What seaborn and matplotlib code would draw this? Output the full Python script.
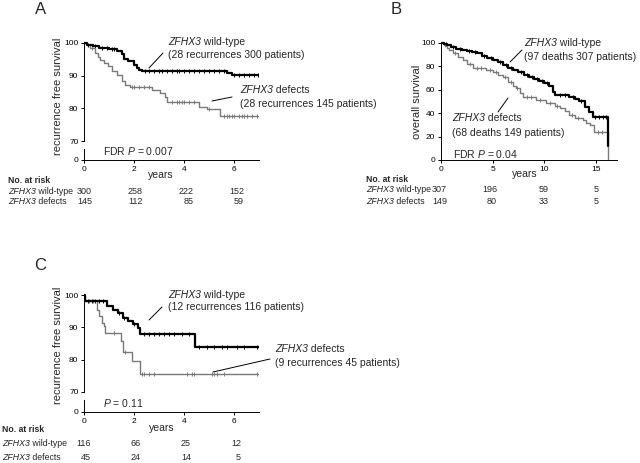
import numpy as np
import matplotlib
matplotlib.use("Agg")
import matplotlib.pyplot as plt
import seaborn as sns
from matplotlib.lines import Line2D
from matplotlib.text import Annotation

# --- data (time in years, survival in %) ---
a_wt_t = [0, 0.1, 0.35, 0.6, 1.0, 1.3, 1.5, 1.6, 1.75, 2.0, 2.1, 2.2, 2.3, 5.7, 5.9]
a_wt_s = [100, 99.5, 99, 98.5, 98, 97.5, 96.5, 95.2, 94.6, 93.2, 92.3, 91.6, 91.3, 90.8, 90.3]
a_wt_cens = [0.15, 0.45, 0.7, 0.9, 1.1, 1.2, 2.45, 2.6, 2.8, 3.0, 3.1, 3.3, 3.5, 3.7, 3.8, 4.0,
             4.2, 4.4, 4.6, 4.8, 5.0, 5.2, 5.4, 5.6, 6.0, 6.2, 6.4, 6.6, 6.8, 6.95]
a_def_t = [0, 0.1, 0.25, 0.45, 0.55, 0.65, 0.8, 0.95, 1.1, 1.3, 1.5, 1.65, 1.85, 2.7, 3.05, 3.25,
           3.3, 4.6, 4.9, 5.45]
a_def_s = [100, 99.3, 98.4, 96.8, 95.8, 94.8, 93.8, 92.8, 91.5, 90.2, 88.2, 87.2, 86.5, 85.6, 84.6,
           83.3, 82.0, 80.5, 79.7, 77.5]
a_def_cens = [0.3, 1.9, 2.0, 2.2, 2.4, 2.6, 3.5, 3.7, 3.8, 3.9, 4.0, 4.2, 4.4, 5.0, 5.6, 5.7, 5.8,
              5.9, 6.0, 6.2, 6.3, 6.4, 6.5, 6.7, 6.9]

b_wt_t = [0, 0.3, 0.6, 1.0, 1.5, 2.0, 2.5, 3.0, 3.5, 4.0, 4.5, 5.0, 5.5, 6.0, 6.5, 7.0, 7.5, 8.0,
          8.5, 9.0, 9.5, 10.0, 10.5, 10.8, 11.0, 12.4, 13.0, 13.4, 13.9, 14.3, 14.7, 16.2]
b_wt_s = [100, 99, 98, 96.5, 95, 94, 93, 92, 91, 89, 87.5, 85.5, 83.5, 81, 79, 77, 75, 73,
          71, 69, 67.5, 66, 63.5, 58, 55.6, 54, 52, 50, 45.6, 41, 37, 12]
b_wt_cens = [0.5, 1.2, 1.8, 2.7, 3.3, 4.2, 4.8, 5.7, 6.3, 6.8, 7.7, 8.3, 8.8, 9.3, 9.8, 10.3,
             11.5, 12.0, 12.8, 13.6, 14.9, 15.3, 15.7, 16.0]
b_def_t = [0, 0.3, 0.6, 0.8, 1.2, 1.6, 2.1, 2.5, 3.07, 4.36, 5.0, 5.5, 5.97, 6.5, 7.0, 7.26, 7.6,
           7.9, 9.2, 10.2, 11.0, 11.5, 12.0, 12.4, 13.0, 13.7, 14.0, 14.4, 14.8, 16.2]
b_def_s = [100, 98.5, 96, 94, 91, 88, 85.5, 82, 78.4, 76.9, 75, 73, 71.2, 67, 63, 61.3, 57,
           54.1, 51.3, 48.5, 46, 44.2, 42, 38.5, 36, 34.2, 32, 29.9, 24.2, 0]
b_def_cens = [0.4, 1.4, 2.8, 3.5, 3.9, 4.7, 5.3, 6.2, 6.8, 7.4, 8.3, 8.7, 9.6, 10.6, 11.2, 12.7,
              13.3, 15.2, 15.6]

c_wt_t = [0, 0.05, 0.9, 1.15, 1.35, 1.55, 1.75, 1.95, 2.15, 2.25, 4.44]
c_wt_s = [100, 98.2, 96.5, 95.5, 94.5, 93, 92, 91, 89.8, 88, 84]
c_wt_cens = [0.15, 0.3, 0.45, 0.6, 0.75, 1.4, 1.6, 2.0, 2.4, 2.6, 2.8, 3.0, 3.2, 3.4, 3.6, 3.9,
             4.2, 4.6, 4.9, 5.2, 5.5, 5.7, 6.1, 6.4, 6.9]
c_def_t = [0, 0.05, 0.5, 0.6, 0.7, 0.78, 0.85, 1.47, 1.57, 1.92, 2.22]
c_def_s = [100, 98, 95.5, 93.5, 91.5, 90.4, 88.4, 85.8, 82.3, 79.5, 75.5]
c_def_cens = [0.2, 0.35, 1.2, 1.65, 2.3, 2.4, 2.6, 2.8, 4.1, 4.3, 4.4, 5.1, 5.2, 5.3, 5.6, 6.9]

gene = "ZFHX3"
row_names = [" wild-type", " defects"]
a_risk_wt = [300, 258, 222, 152]
a_risk_def = [145, 112, 85, 59]
b_risk_wt = [307, 196, 59, 5]
b_risk_def = [149, 80, 33, 5]
c_risk_wt = [116, 66, 25, 12]
c_risk_def = [45, 24, 14, 5]

sns.set_theme(style="ticks")
plt.rcParams["font.family"] = ["Liberation Sans", "DejaVu Sans"]
plt.rcParams["mathtext.fontset"] = "custom"
plt.rcParams["mathtext.rm"] = "Liberation Sans"
plt.rcParams["mathtext.it"] = "Liberation Sans:italic"

W, H = 640, 463
fig = plt.figure(figsize=(6.4, 4.63), dpi=100)
WT_COL, DEF_COL = "black", "#7a7a7a"


def rect(l, t, r, b):
    return [l / W, 1 - b / H, (r - l) / W, (b - t) / H]


def ftxt(x, y, s, **kw):
    kw.setdefault("va", "center")
    return fig.text(x / W, 1 - y / H, s, **kw)


def gene_txt(x, y, rest, size):
    # italic gene name followed by plain text
    t = ftxt(x, y, gene, fontsize=size, style="italic")
    a = Annotation(rest, xy=(1, 0), xycoords=t, va="bottom", ha="left", fontsize=size)
    fig.add_artist(a)


def fline(x0, y0, x1, y1):
    fig.add_artist(Line2D([x0 / W, x1 / W], [1 - y0 / H, 1 - y1 / H], color="black", lw=0.7))


def style(ax):
    sns.despine(ax=ax)
    ax.tick_params(direction="out", length=2.5, width=0.7, labelsize=6, pad=1.5, colors="black")
    for sp in ax.spines.values():
        sp.set_linewidth(0.7)
        sp.set_color("black")
    ax.set_xlabel("")
    ax.set_ylabel("")


def km(ax, t, s, cens, color, lw, end=None):
    xs, ys = list(t), list(s)
    if end is not None:
        xs.append(end)
        ys.append(s[-1])
    sns.lineplot(x=xs, y=ys, drawstyle="steps-post", color=color, linewidth=lw, ax=ax,
                 estimator=None, sort=False)
    idx = np.searchsorted(t, cens, side="right") - 1
    sns.scatterplot(x=cens, y=np.array(s)[idx], marker="|", s=10, color=color, linewidth=0.7, ax=ax)


def broken_panel(top, y70, stub_top, y0, curves):
    ax = fig.add_axes(rect(84, top, 259, y70))
    for c in curves:
        km(ax, *c)
    ax.set_xlim(0, 7)
    ax.set_ylim(70, 101)
    ax.set_yticks([70, 80, 90, 100])
    style(ax)
    ax.spines["bottom"].set_visible(False)
    ax.spines["left"].set_bounds(70, 100)
    ax.set_xticks([])
    ax2 = fig.add_axes(rect(84, stub_top, 259, y0))
    ax2.set_xlim(0, 7)
    ax2.set_ylim(0, 3.6)
    ax2.set_yticks([0])
    ax2.set_xticks([0, 2, 4, 6])
    style(ax2)
    return ax, ax2


def risk_table(x0, y_head, y1, y2, right_edges, wt, df):
    ftxt(x0, y_head, "No. at risk", fontsize=6.2, fontweight="bold")
    gene_txt(x0, y1, row_names[0], 6.3)
    gene_txt(x0, y2, row_names[1], 6.3)
    for xr, a, b in zip(right_edges, wt, df):
        ftxt(xr, y1, str(a), fontsize=6.5, ha="right")
        ftxt(xr, y2, str(b), fontsize=6.5, ha="right")


# ---- panel A ----
broken_panel(39.6, 141, 149, 160,
             [(a_def_t, a_def_s, a_def_cens, DEF_COL, 1.0, 7),
              (a_wt_t, a_wt_s, a_wt_cens, WT_COL, 1.6, 7)])
ftxt(41, 10, "A", fontsize=12, ha="center")
ftxt(58, 96, "recurrence free survival", fontsize=8, rotation=90, ha="center")
ftxt(161, 175, "years", fontsize=7.5, ha="center")
gene_txt(168, 42, " wild-type", 7.5)
ftxt(168, 55, "(28 recurrences 300 patients)", fontsize=7.5)
gene_txt(240, 90, " defects", 7.5)
ftxt(240, 104, "(28 recurrences 145 patients)", fontsize=7.5)
ftxt(103, 151, "FDR $\\it{P}$ = 0.007", fontsize=7.5)
fline(149, 68, 163, 53)
fline(212, 101, 232, 97)
risk_table(8, 180, 191, 202, [92, 143, 194, 244], a_risk_wt, a_risk_def)

# ---- panel B ----
axb = fig.add_axes(rect(441, 41.2, 616.6, 160))
km(axb, b_def_t, b_def_s, b_def_cens, DEF_COL, 1.0)
km(axb, b_wt_t, b_wt_s, b_wt_cens, WT_COL, 1.6)
axb.set_xlim(0, 17)
axb.set_ylim(0, 101.5)
axb.set_xticks([0, 5, 10, 15])
axb.set_yticks([0, 20, 40, 60, 80, 100])
style(axb)
axb.spines["left"].set_bounds(0, 100)
ftxt(396, 9, "B", fontsize=12, ha="center")
ftxt(417, 102, "overall survival", fontsize=8, rotation=90, ha="center")
ftxt(525, 174, "years", fontsize=7.5, ha="center")
gene_txt(524, 43, " wild-type", 7.5)
ftxt(524, 56.5, "(97 deaths 307 patients)", fontsize=7.5)
gene_txt(452, 118, " defects", 7.5)
ftxt(452, 133, "(68 deaths 149 patients)", fontsize=7.5)
ftxt(453, 154, "FDR $\\it{P}$ = 0.04", fontsize=7.5)
fline(510, 62, 522, 50)
fline(498, 112, 508, 98)
risk_table(366, 179, 190, 201, [447, 497, 549, 599], b_risk_wt, b_risk_def)

# ---- panel C ----
broken_panel(291.8, 392, 400, 412,
             [(c_def_t, c_def_s, c_def_cens, DEF_COL, 1.0, 7),
              (c_wt_t, c_wt_s, c_wt_cens, WT_COL, 1.6, 7)])
ftxt(40.5, 265, "C", fontsize=12, ha="center")
ftxt(58, 345, "recurrence free survival", fontsize=8, rotation=90, ha="center")
ftxt(162, 428, "years", fontsize=7.5, ha="center")
gene_txt(168, 295, " wild-type", 7.5)
ftxt(168, 307.5, "(12 recurrences 116 patients)", fontsize=7.5)
gene_txt(275, 349, " defects", 7.5)
ftxt(275, 363, "(9 recurrences 45 patients)", fontsize=7.5)
ftxt(103, 403, "$\\it{P}$ = 0.11", fontsize=7.5)
fline(149, 320, 162, 307)
fline(213, 372, 270, 359)
risk_table(2, 429, 444, 457, [91, 141, 191, 241], c_risk_wt, c_risk_def)

fig.savefig("out.png", dpi=100)
